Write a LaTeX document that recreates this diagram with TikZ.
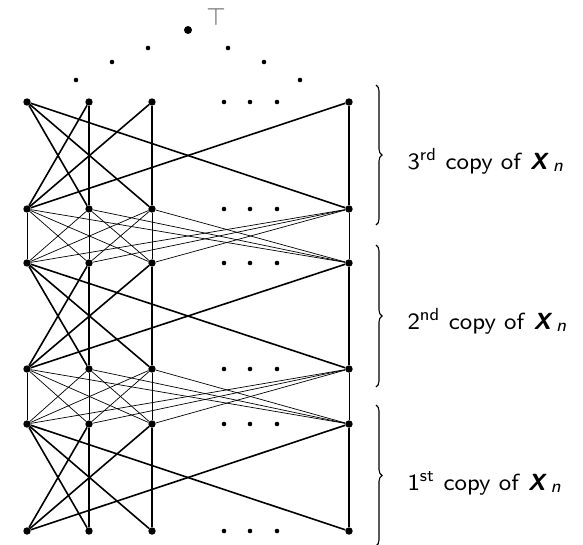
\documentclass[tikz,border=0pt]{standalone}
\usetikzlibrary{decorations.pathreplacing}
\newcommand{\copylabel}[2]{#1\textsuperscript{#2} copy of \textbf{\textit{X}}\,\raisebox{-0.8pt}{\fontsize{6.3}{7}\selectfont\textit{n}}}
\begin{document}
\begin{tikzpicture}[x=1pt,y=-1pt,
  vtx/.style={circle,fill=black,inner sep=0pt,minimum size=7.4pt},
  topvtx/.style={circle,fill=black,inner sep=0pt,minimum size=8pt},
  dotvtx/.style={circle,fill=black,inner sep=0pt,minimum size=4.6pt},
  inner/.style={line width=1.6pt},
  link/.style={line width=0.7pt},
  bracestyle/.style={line width=1.1pt,decorate,decoration={brace,amplitude=6pt}},
  lbl/.style={anchor=base west,inner sep=0pt,scale=2.92,font=\fontsize{8}{10}\selectfont\sffamily}]
\useasboundingbox (0,0) rectangle (583,544);

% rows of vertices, bottom (1) to top (6)
\foreach \r/\y in {1/531,2/424,3/369,4/263,5/209,6/102}{
  \foreach \c/\x in {1/27,2/89,3/152,4/349}{
    \node[vtx] (v\r-\c) at (\x,\y) {};
  }
  \node[dotvtx] (e\r-1) at (224,\y) {};
  \node[dotvtx] (e\r-2) at (250,\y) {};
  \node[dotvtx] (e\r-3) at (277,\y) {};
}

% edges inside each copy of X_n
\foreach \b/\t in {1/2,3/4,5/6}{
  \foreach \c in {2,3,4}{
    \draw[inner] (v\b-1) -- (v\t-\c);
    \draw[inner] (v\t-1) -- (v\b-\c);
    \draw[inner] (v\b-\c) -- (v\t-\c);
  }
}

% complete bipartite links between consecutive copies
\foreach \b/\t in {2/3,4/5}{
  \foreach \i in {1,2,3,4}{
    \foreach \j in {1,2,3,4}{
      \draw[link] (v\b-\i) -- (v\t-\j);
    }
  }
}

% top element and the dots leading up to it
\node[topvtx] (top) at (188,30) {};
\node[inner sep=0pt,text=black!65,font=\fontsize{23}{26}\selectfont] (toplbl) at (216,17) {$\top$};
\node[dotvtx] (l1) at (148,48) {};
\node[dotvtx] (l2) at (112,62) {};
\node[dotvtx] (l3) at (76,80) {};
\node[dotvtx] (r1) at (228,48) {};
\node[dotvtx] (r2) at (264,62) {};
\node[dotvtx] (r3) at (300,80) {};

% braces and labels
\draw[bracestyle] (376,85) -- (376,225);
\draw[bracestyle] (376,245) -- (376,387);
\draw[bracestyle] (376,405) -- (376,546);
\node[lbl] (c3) at (407,169) {\copylabel{3}{rd}};
\node[lbl] (c2) at (407,329) {\copylabel{2}{nd}};
\node[lbl] (c1) at (407,490) {\copylabel{1}{st}};
\end{tikzpicture}
\end{document}
